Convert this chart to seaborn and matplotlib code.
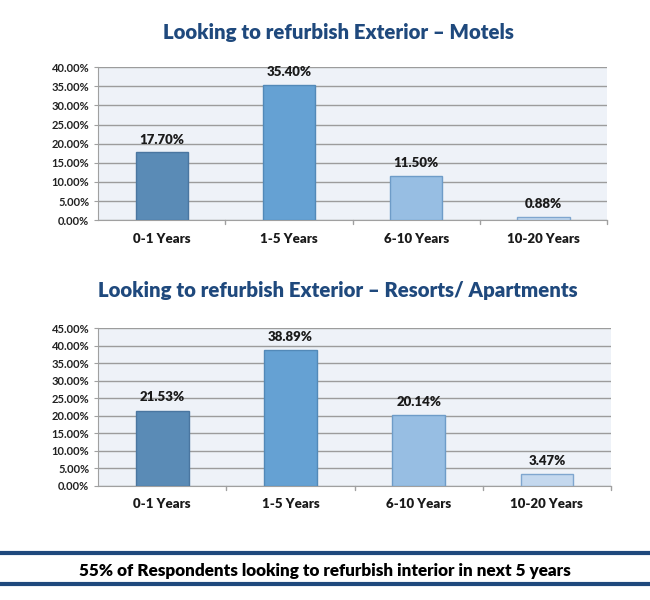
import numpy as np
import pandas as pd
import matplotlib.pyplot as plt
import seaborn as sns
from matplotlib.ticker import PercentFormatter

categories = ['0-1 Years', '1-5 Years', '6-10 Years', '10-20 Years']
motels = [17.70, 35.40, 11.50, 0.88]
resorts = [21.53, 38.89, 20.14, 3.47]
title_motels = 'Looking to refurbish Exterior \u2013 Motels'
title_resorts = 'Looking to refurbish Exterior \u2013 Resorts/ Apartments'
footer = '55% of Respondents looking to refurbish interior in next 5 years'

colors = ['#5A8BB6', '#65A1D3', '#97BEE3', '#C4D8EE']
edges = ['#4A76A0', '#5289B8', '#6E9CC8', '#7FA6CF']
navy = '#1F497D'

sns.set_style('white')
plt.rcParams['font.family'] = ['Lato', 'DejaVu Sans']

fig = plt.figure(figsize=(6.5, 6), dpi=100)
ax1 = fig.add_axes([0.151, 0.633, 0.783, 0.255])
ax2 = fig.add_axes([0.151, 0.19, 0.789, 0.263])


def draw(ax, vals, ymax, title, title_y):
    df = pd.DataFrame({'cat': categories, 'val': vals})
    sns.barplot(data=df, x='cat', y='val', hue='cat', palette=colors,
                saturation=1, width=0.41, ax=ax, legend=False, zorder=3)
    for p, ec in zip(ax.patches, edges):
        p.set_edgecolor(ec)
        p.set_linewidth(1)
    for i, v in enumerate(vals):
        ax.text(i, v + ymax * 0.045, f'{v:.2f}%', ha='center', va='bottom',
                fontsize=9.5, fontweight='heavy', color='#1a1a1a')
    ax.set_ylim(0, ymax)
    ax.set_yticks(np.arange(0, ymax + 0.1, 5))
    ax.yaxis.set_major_formatter(PercentFormatter(decimals=2))
    ax.set_facecolor('#EEF2F8')
    ax.grid(axis='y', color='#9C9C9C', linewidth=1, zorder=0)
    ax.set_axisbelow(True)
    ax.set_xlabel('')
    ax.set_ylabel('')
    ax.set_xlim(-0.5, 3.5)
    for s in ['top', 'right']:
        ax.spines[s].set_visible(False)
    for s in ['left', 'bottom']:
        ax.spines[s].set_color('#A0A0A0')
    ax.tick_params(axis='y', labelsize=8, length=3, color='#A0A0A0', left=True,
                   labelcolor='#222222')
    for lab in ax.get_yticklabels():
        lab.set_fontweight('bold')
    ax.set_xticks([0, 1, 2, 3])
    ax.set_xticklabels(categories, fontsize=9.5, fontweight='heavy', color='#1a1a1a')
    ax.tick_params(axis='x', length=0, pad=9)
    for xb in [0.5, 1.5, 2.5, 3.5]:
        ax.plot([xb, xb], [0, -ymax * 0.025], color='#A0A0A0', lw=1,
                clip_on=False, transform=ax.transData)
    fig.text(0.52, title_y, title, ha='center', va='center', fontsize=14.7,
             fontweight='heavy', color=navy)


draw(ax1, motels, 40, title_motels, 0.946)
draw(ax2, resorts, 45, title_resorts, 0.515)

fig.add_artist(plt.Line2D([0, 1], [1 - 553 / 600] * 2, color=navy, lw=3))
fig.add_artist(plt.Line2D([0, 1], [1 - 584 / 600] * 2, color=navy, lw=3))
fig.text(0.5, 1 - 571 / 600, footer, ha='center', va='center', fontsize=12.3,
         fontweight='heavy', color='black')

plt.savefig('out.png', dpi=100)
